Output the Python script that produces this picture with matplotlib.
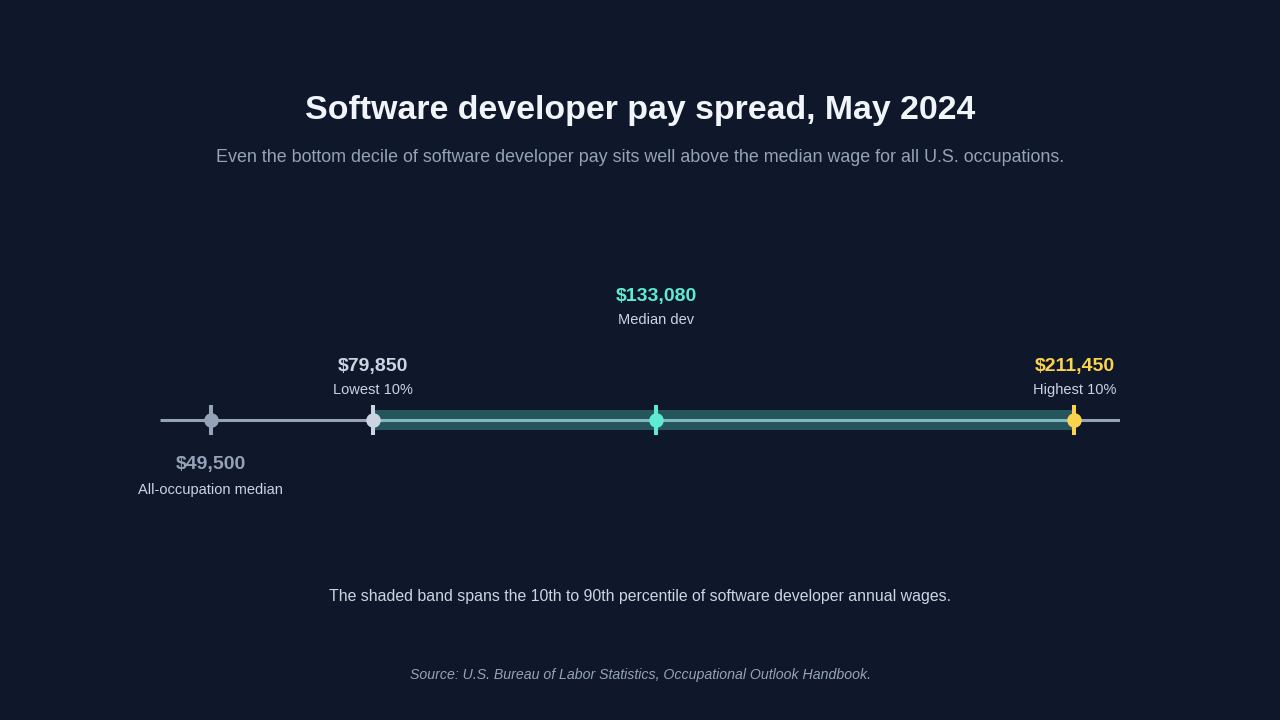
import matplotlib
matplotlib.use('Agg')
import matplotlib.pyplot as plt

# wage points (annual, USD)
names = ['All-occupation median', 'Lowest 10%', 'Median dev', 'Highest 10%']
wages = [49500, 79850, 133080, 211450]
colors = ['#94a3b8', '#cbd5e1', '#5eead4', '#fcd34d']
label_pos = ['below', 'above', 'above_high', 'above']
band_lo, band_hi = 79850, 211450
x_min, x_max = 40000, 220000

BG = '#0f172a'
plt.rcParams['font.family'] = ['Liberation Sans', 'DejaVu Sans']

fig = plt.figure(figsize=(12.8, 7.2), dpi=100, facecolor=BG)
# axes spans the track width; y runs in pixel units top-down
ax = fig.add_axes([160 / 1280, 0, 960 / 1280, 1])
ax.set_facecolor(BG)
ax.set_xlim(x_min, x_max)
ax.set_ylim(720, 0)
ax.axis('off')

y0 = 420
ax.plot([x_min, x_max], [y0, y0], color='#94a3b8', lw=2.2, solid_capstyle='butt', zorder=1)
ax.fill_between([band_lo, band_hi], y0 - 10, y0 + 10, color='#5eead4', alpha=0.3, lw=0, zorder=2)

for name, w, c, pos in zip(names, wages, colors, label_pos):
    ax.vlines(w, y0 - 15, y0 + 15, color=c, lw=2.9, zorder=3)
    ax.plot(w, y0, 'o', ms=10.5, color=c, mec='none', zorder=4)
    if pos == 'below':
        yv, yl = 465, 490
        vc = '#94a3b8'
    elif pos == 'above_high':
        yv, yl = 296, 320
        vc = c
    else:
        yv, yl = 366, 390
        vc = c
    ax.text(w, yv, f'${w:,}', color=vc, fontsize=14, fontweight='bold',
            ha='center', va='center')
    ax.text(w, yl, name, color='#cbd5e1', fontsize=10.5, ha='center', va='center')

fig.text(0.5, 1 - 111 / 720, 'Software developer pay spread, May 2024', color='#f1f5f9',
         fontsize=24.4, fontweight='bold', ha='center', va='center')
fig.text(0.5, 1 - 158 / 720,
         'Even the bottom decile of software developer pay sits well above the median wage for all U.S. occupations.',
         color='#94a3b8', fontsize=12.9, ha='center', va='center')
fig.text(0.5, 1 - 596 / 720,
         'The shaded band spans the 10th to 90th percentile of software developer annual wages.',
         color='#cbd5e1', fontsize=11.45, ha='center', va='center')
fig.text(0.5, 1 - 675 / 720,
         'Source: U.S. Bureau of Labor Statistics, Occupational Outlook Handbook.',
         color='#94a3b8', fontsize=10.2, style='italic', ha='center', va='center')

fig.savefig('out.png', dpi=100, facecolor=BG)
